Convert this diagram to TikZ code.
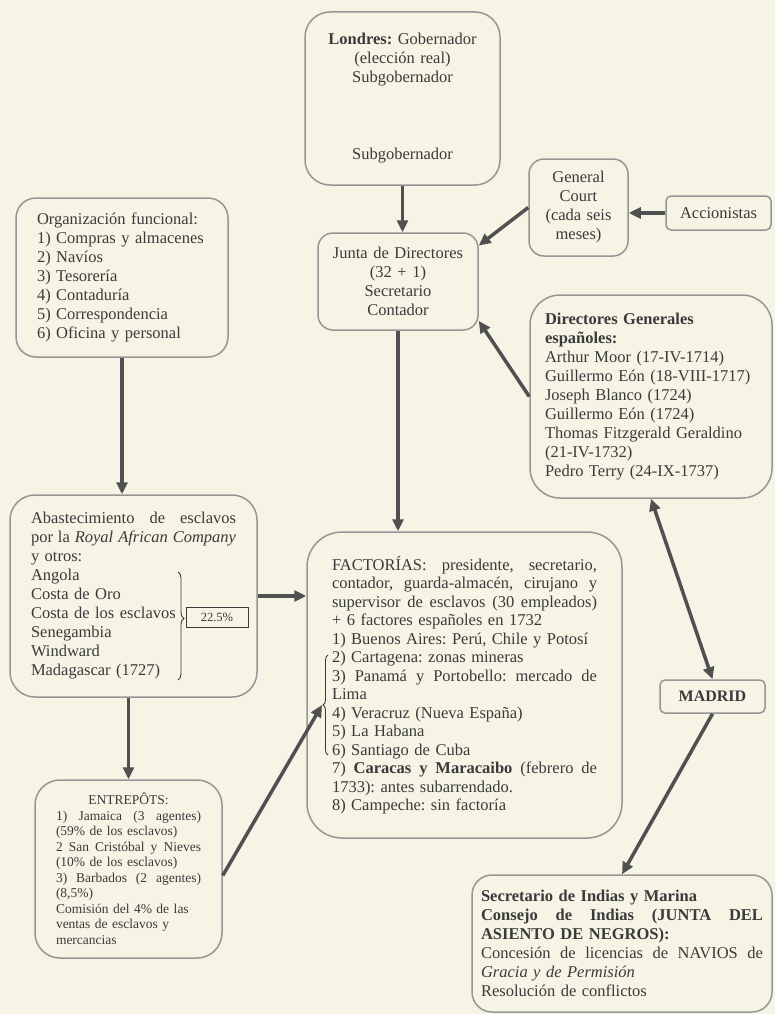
\documentclass[tikz,border=0pt]{standalone}
\usepackage{fontspec}
\setmainfont{Liberation Serif}
\usetikzlibrary{arrows.meta,decorations.pathreplacing,calc}
\definecolor{bg}{RGB}{246,244,229}
\definecolor{bord}{RGB}{150,150,150}
\definecolor{txt}{RGB}{58,58,58}
\definecolor{arrc}{RGB}{80,80,80}
\frenchspacing
\newcommand\jline[2]{\makebox[#1][s]{\spaceskip=0.25em plus 1fil\relax\xspaceskip=\spaceskip #2}}
\begin{document}
\begin{tikzpicture}[x=1pt,y=-1pt,
  box/.style={draw=bord, line width=1.5pt, fill=bg, inner sep=0pt, text=txt, font=\fontsize{16.5}{19}\selectfont},
  arr/.style={draw=arrc, line width=3.5pt, -{Triangle[length=12pt,width=11pt]}},
  dblarr/.style={draw=arrc, line width=3.5pt, {Triangle[length=12pt,width=11pt]}-{Triangle[length=12pt,width=11pt]}},
  bracestyle/.style={draw=txt, line width=0.9pt, decorate},
]
\useasboundingbox (0,0) rectangle (775,1014);
\fill[bg] (0,0) rectangle (775,1014);

\node[box, rounded corners=25pt, minimum width=195pt, minimum height=173pt, text width=180pt, align=center] (lon) at (402.5,98.5)
 {\textbf{Londres:} Gobernador\\(elección real)\\Subgobernador\\[58pt]Subgobernador};

\node[box, rounded corners=15pt, minimum width=99pt, minimum height=97pt, text width=90pt, align=center] (gc) at (578.5,207.5)
 {General\\Court\\(cada seis\\meses)};

\node[box, rounded corners=5pt, minimum width=105pt, minimum height=34pt, align=center] (acc) at (718.5,213) {Accionistas};

\node[box, rounded corners=15pt, minimum width=160pt, minimum height=97pt, text width=150pt, align=center] (jun) at (398,281.5)
 {Junta de Directores\\(32 + 1)\\Secretario\\Contador};

\node[box, rounded corners=20pt, minimum width=212pt, minimum height=159pt, text width=170pt, align=left] (org) at (122,277.5)
 {Organización funcional:\\1) Compras y almacenes\\2) Navíos\\3) Tesorería\\4) Contaduría\\5) Correspondencia\\6) Oficina y personal};

\node[box, rounded corners=30pt, minimum width=242pt, minimum height=203pt, text width=212pt, align=left] (dir) at (651,396.5)
 {\textbf{Directores Generales}\\\textbf{españoles:}\\Arthur Moor (17-IV-1714)\\Guillermo Eón (18-VIII-1717)\\Joseph Blanco (1724)\\Guillermo Eón (1724)\\Thomas Fitzgerald Geraldino\\(21-IV-1732)\\Pedro Terry (24-IX-1737)};

\node[box, rounded corners=25pt, minimum width=247pt, minimum height=202pt, text width=205pt, align=left] (aba) at (133.5,596)
 {\jline{205pt}{Abastecimiento de esclavos}\\\jline{205pt}{por la \textit{Royal African Company}}\\y otros:\\Angola\\Costa de Oro\\Costa de los esclavos\\Senegambia\\Windward\\Madagascar (1727)};

\node[draw=txt, line width=1pt, fill=bg, text=txt, inner sep=0pt, minimum width=62pt, minimum height=20pt, font=\fontsize{12.5}{14}\selectfont] (pct) at (217,617) {22.5\%};

\node[box, rounded corners=35pt, minimum width=315pt, minimum height=306pt, text width=265pt, align=left, font=\fontsize{16.5}{18.5}\selectfont] (fac) at (464.5,685)
 {\jline{265pt}{FACTORÍAS: presidente, secretario,}\\
  \jline{265pt}{contador, guarda-almacén, cirujano y}\\
  \jline{265pt}{supervisor de esclavos (30 empleados)}\\
  + 6 factores españoles en 1732\\
  1) Buenos Aires: Perú, Chile y Potosí\\
  2) Cartagena: zonas mineras\\
  \jline{265pt}{3) Panamá y Portobello: mercado de}\\
  Lima\\
  4) Veracruz (Nueva España)\\
  5) La Habana\\
  6) Santiago de Cuba\\
  \jline{265pt}{7) \textbf{Caracas y Maracaibo} (febrero de}\\
  1733): antes subarrendado.\\
  8) Campeche: sin factoría};

\node[box, rounded corners=5pt, minimum width=105pt, minimum height=33pt, font=\fontsize{16}{19}\selectfont\bfseries] (mad) at (712.5,696.5) {MADRID};

\node[box, rounded corners=25pt, minimum width=187pt, minimum height=178pt, text width=145pt, align=left, font=\fontsize{13.5}{15.5}\selectfont] (ent) at (128.5,869)
 {\makebox[145pt][c]{ENTREPÔTS:}\\
  \jline{145pt}{1) Jamaica (3 agentes)}\\
  (59\% de los esclavos)\\
  \jline{145pt}{2 San Cristóbal y Nieves}\\
  (10\% de los esclavos)\\
  \jline{145pt}{3) Barbados (2 agentes)}\\
  (8,5\%)\\
  Comisión del 4\% de las\\
  ventas de esclavos y\\
  mercancias};

\node[box, rounded corners=20pt, minimum width=300pt, minimum height=137pt, text width=282pt, align=left] (sec) at (622,943.5)
 {\textbf{Secretario de Indias y Marina}\\
  \jline{282pt}{\textbf{Consejo de Indias (JUNTA DEL}}\\
  \textbf{ASIENTO DE NEGROS):}\\
  \jline{282pt}{Concesión de licencias de NAVIOS de}\\
  \textit{Gracia y de Permisión}\\
  Resolución de conflictos};

% braces
\draw[bracestyle, decoration={brace, amplitude=6pt, aspect=0.43}] (178,572) -- (178,680);
\draw[bracestyle, decoration={brace, amplitude=5pt}] (328,755) -- (328,655);
\coordinate (ftip) at (322,705);

% connectors
\draw[arr] (lon.south) -- (lon.south |- jun.north);
\draw[arr] (acc.west) -- (acc.west -| gc.east);
\draw[arr] (gc.west) -- (jun.24);
\draw[arr] (dir.west) -- (jun.-26);
\draw[arr] (jun.south) -- (jun.south |- fac.north);
\draw[arr] (org.south) -- (org.south |- aba.north);
\draw[arr] (aba.east) -- (aba.east -| fac.west);
\draw[arr] (ent.north |- aba.south) -- (ent.north);
\draw[arr] (ent.-4) -- (ftip);
\draw[dblarr] (dir.south) -- (mad.north);
\draw[arr] (mad.south) -- (sec.north);
\end{tikzpicture}
\end{document}
